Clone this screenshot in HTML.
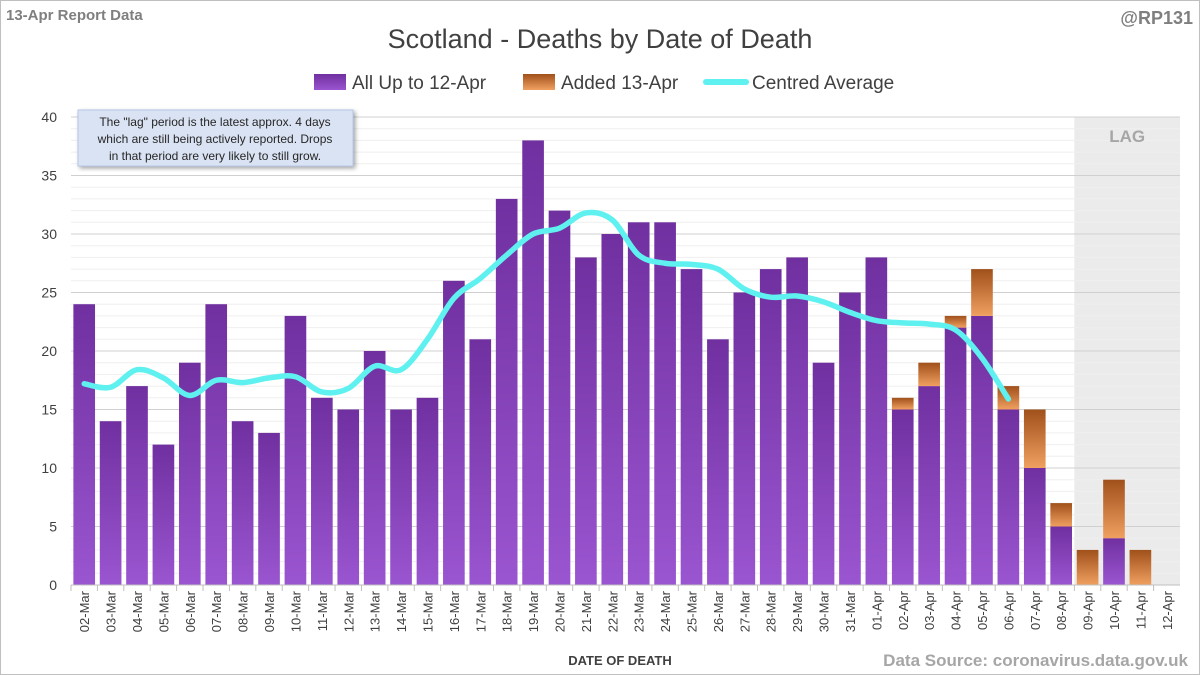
<!DOCTYPE html>
<html><head><meta charset="utf-8"><style>
body{margin:0;background:#fff}
svg{display:block;font-family:"Liberation Sans",Calibri,sans-serif}
</style></head><body>
<svg width="1200" height="675" viewBox="0 0 1200 675">
<defs>
<linearGradient id="gp" x1="0" y1="0" x2="0" y2="1"><stop offset="0" stop-color="#7030a0"/><stop offset="1" stop-color="#9a55d0"/></linearGradient>
<linearGradient id="go" x1="0" y1="0" x2="0" y2="1"><stop offset="0" stop-color="#a0501a"/><stop offset="1" stop-color="#f0a060"/></linearGradient>
<filter id="sh"><feDropShadow dx="2" dy="2" stdDeviation="2" flood-opacity="0.35"/></filter>
</defs>
<rect x="0.5" y="0.5" width="1199" height="674" fill="#fff" stroke="#bfbfbf"/>
<text x="6" y="20" font-size="15" font-weight="bold" fill="#7f7f7f">13-Apr Report Data</text>
<text x="1193" y="24" font-size="18" font-weight="bold" fill="#7f7f7f" text-anchor="end">@RP131</text>
<text x="600" y="48" font-size="27" fill="#404040" text-anchor="middle">Scotland - Deaths by Date of Death</text>
<g>
<g><rect x="314" y="74" width="32" height="16" fill="url(#gp)"/><text x="352" y="89" font-size="19" fill="#404040">All Up to 12-Apr</text></g>
<g><rect x="523" y="74" width="32" height="16" fill="url(#go)"/><text x="561" y="89" font-size="19" fill="#404040">Added 13-Apr</text></g>
<g><line x1="706" y1="82" x2="746" y2="82" stroke="#5ff0f0" stroke-width="6" stroke-linecap="round"/><text x="752" y="89" font-size="19" fill="#404040">Centred Average</text></g>
</g>
<g id="plot"></g>
<g filter="url(#sh)">
<rect x="78" y="110" width="275" height="56" fill="#dae3f3" stroke="#b4c7e7"/>
</g>
<text font-size="12" fill="#262626" text-anchor="middle"><tspan x="215" y="126">The "lag" period is the latest approx. 4 days</tspan><tspan x="215" y="143">which are still being actively reported.  Drops</tspan><tspan x="215" y="160">in that period are very likely to still grow.</tspan></text>
<text x="620" y="665" font-size="13" font-weight="bold" fill="#404040" text-anchor="middle">DATE OF DEATH</text>
<text x="1188" y="666" font-size="17" font-weight="bold" fill="#a6a6a6" text-anchor="end">Data Source: coronavirus.data.gov.uk</text>
</svg>
<script>
const categories=["02-Mar","03-Mar","04-Mar","05-Mar","06-Mar","07-Mar","08-Mar","09-Mar","10-Mar","11-Mar","12-Mar","13-Mar","14-Mar","15-Mar","16-Mar","17-Mar","18-Mar","19-Mar","20-Mar","21-Mar","22-Mar","23-Mar","24-Mar","25-Mar","26-Mar","27-Mar","28-Mar","29-Mar","30-Mar","31-Mar","01-Apr","02-Apr","03-Apr","04-Apr","05-Apr","06-Apr","07-Apr","08-Apr","09-Apr","10-Apr","11-Apr","12-Apr"];
const baseValues=[24,14,17,12,19,24,14,13,23,16,15,20,15,16,26,21,33,38,32,28,30,31,31,27,21,25,27,28,19,25,28,15,17,22,23,15,10,5,0,4,0,0];
const addedValues=[0,0,0,0,0,0,0,0,0,0,0,0,0,0,0,0,0,0,0,0,0,0,0,0,0,0,0,0,0,0,0,1,2,1,4,2,5,2,3,5,3,0];
const averageValues=[17.2,16.9,18.4,17.7,16.2,17.5,17.3,17.7,17.8,16.5,16.8,18.7,18.4,21,24.5,26.2,28.2,30,30.5,31.8,31.2,28.2,27.5,27.4,27,25.3,24.6,24.7,24.2,23.3,22.6,22.4,22.3,21.8,19.4,15.9];
const yTicks=[0,5,10,15,20,25,30,35,40];
const lagDays=4;

const NS="http://www.w3.org/2000/svg";
const L=71,R=1180,T=117,B=585,yMax=40;
const step=(R-L)/categories.length;
const x=i=>L+step*(i+0.5);
const y=v=>B-(v/yMax)*(B-T);
const plot=document.getElementById('plot');
function mk(tag,attrs,parent){const e=document.createElementNS(NS,tag);for(const k in attrs)e.setAttribute(k,attrs[k]);(parent||plot).appendChild(e);return e;}

const lagX=L+step*(categories.length-lagDays);
const lag=mk('rect',{x:lagX,y:T,width:R-lagX,height:B-T,fill:'#ebebeb'});



for(let v=0;v<=yMax;v++){
  const g=mk('line',{x1:L,x2:R,y1:y(v),y2:y(v),stroke:v%5===0?'#d0d0d0':'#efefef','stroke-width':1});
  
  
}
const lt=mk('text',{x:(lagX+R)/2,y:T+25,'font-size':17,'font-weight':'bold',fill:'#a6a6a6','text-anchor':'middle'});
lt.textContent='LAG';


yTicks.forEach(t=>{
  const e=mk('text',{x:L-14,y:y(t)+5,'font-size':14,fill:'#404040','text-anchor':'end'});
  e.textContent=t;
  
  
});
const bw=step*0.82;
categories.forEach((c,i)=>{
  const b=baseValues[i],a=addedValues[i];
  if(b>0){const r=mk('rect',{x:x(i)-bw/2,y:y(b),width:bw,height:B-y(b),fill:'url(#gp)'});
    
    }
  if(a>0){const r=mk('rect',{x:x(i)-bw/2,y:y(b+a),width:bw,height:y(b)-y(b+a),fill:'url(#go)'});
    
    }
  const tk=mk('line',{x1:L+step*i,x2:L+step*i,y1:B,y2:B+6,stroke:'#bfbfbf'});
  
  
  const t=mk('text',{x:0,y:0,'font-size':13,fill:'#404040','text-anchor':'end',transform:`translate(${x(i)+5},${B+6}) rotate(-90)`});
  t.textContent=c;
  
  
});
const ax=mk('line',{x1:L,x2:R,y1:B,y2:B,stroke:'#bfbfbf'});


const pts=averageValues.map((v,i)=>[x(i),y(v)]);
let d='M'+pts[0][0]+','+pts[0][1];
for(let i=0;i<pts.length-1;i++){
  const p0=pts[i-1]||pts[i],p1=pts[i],p2=pts[i+1],p3=pts[i+2]||p2;
  d+=` C${p1[0]+(p2[0]-p0[0])/6},${p1[1]+(p2[1]-p0[1])/6} ${p2[0]-(p3[0]-p1[0])/6},${p2[1]-(p3[1]-p1[1])/6} ${p2[0]},${p2[1]}`;
}
const ln=mk('path',{d:d,fill:'none',stroke:'#5ff0f0','stroke-width':5.5,'stroke-linecap':'round','stroke-linejoin':'round'});


</script>
</body></html>
